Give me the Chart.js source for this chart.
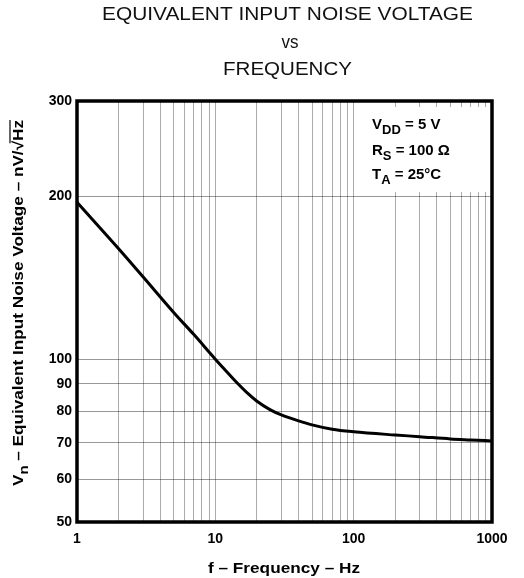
<!DOCTYPE html>
<html>
<head>
<meta charset="utf-8">
<script src="https://cdn.jsdelivr.net/npm/chart.js@4/dist/chart.umd.min.js"></script>
<style>
html,body{margin:0;padding:0;background:#fff;}
#wrap{width:524px;height:578px;position:relative;}
</style>
</head>
<body>
<div id="wrap"><canvas id="c" width="524" height="578"></canvas></div>
<script>
// ---- data ----
const titleLines = ["EQUIVALENT INPUT NOISE VOLTAGE", "vs", "FREQUENCY"];
const freqHz = [1, 2, 3, 5, 7, 10, 12, 14, 17, 20, 25, 30, 40, 50, 70, 100, 200, 300, 500, 700, 1000];
const noiseNv = [195, 160, 142, 122, 111, 100, 95.0, 91.0, 86.6, 83.6, 80.6, 78.9, 76.9, 75.6, 74.2, 73.4, 72.4, 71.9, 71.2, 70.9, 70.6];
const xGridValues = [1,2,3,4,5,6,7,8,9,10,20,30,40,50,60,70,80,90,100,200,300,400,500,600,700,800,900,1000];
const xTickLabels = [1, 10, 100, 1000];
const yTickValues = [50, 60, 70, 80, 90, 100, 200, 300];
const xTitle = "f – Frequency – Hz";
const conditions = [
  [["T","V"],["S","DD"],["T"," = 5 V"]],
  [["T","R"],["S","S"],["T"," = 100 Ω"]],
  [["T","T"],["S","A"],["T"," = 25°C"]]
];

const FONT = "'Liberation Sans', Arial, Helvetica, sans-serif";

function drawRich(ctx, x, y, parts, size) {
  let cx = x;
  for (const [kind, txt] of parts) {
    if (kind === "S") {
      ctx.font = "bold " + Math.round(size*0.85) + "px " + FONT;
      ctx.fillText(txt, cx, y + size*0.32);
    } else {
      ctx.font = "bold " + size + "px " + FONT;
      ctx.fillText(txt, cx, y);
    }
    cx += ctx.measureText(txt).width;
  }
  return cx;
}

function stretchText(ctx, txt, cx, y, targetW) {
  const w = ctx.measureText(txt).width;
  const s = targetW / w;
  ctx.save();
  ctx.translate(cx, y);
  ctx.scale(s, 1);
  ctx.textAlign = "center";
  ctx.fillText(txt, 0, 0);
  ctx.restore();
}

const decor = {
  id: "decor",
  beforeDatasetsDraw(chart) {
    const ctx = chart.ctx;
    ctx.save();
    ctx.fillStyle = "#fff";
    ctx.fillRect(356, 107, 132, 85);
    ctx.restore();
  },
  afterDraw(chart) {
    const ctx = chart.ctx;
    const a = chart.chartArea;
    ctx.save();
    // frame
    ctx.strokeStyle = "#000";
    ctx.lineWidth = 3.5;
    ctx.strokeRect(a.left, a.top, a.right - a.left, a.bottom - a.top);
    // title
    ctx.fillStyle = "#111";
    ctx.textBaseline = "alphabetic";
    ctx.font = "18px " + FONT;
    stretchText(ctx, titleLines[0], 287.5, 20, 371);
    stretchText(ctx, titleLines[1], 290, 48, 17);
    stretchText(ctx, titleLines[2], 287.5, 75, 129);
    // x title
    ctx.fillStyle = "#000";
    ctx.font = "bold 15px " + FONT;
    stretchText(ctx, xTitle, 284, 573, 152);
    // y title (rotated), with subscript and sqrt overline
    ctx.save();
    ctx.translate(23, 303);
    ctx.rotate(-Math.PI/2);
    const parts = [["T","V"],["S","n"],["T"," – Equivalent Input Noise Voltage – nV/√"]];
    let total = 0;
    for (const [k,t] of parts) { ctx.font = "bold " + (k==="S"?13:15) + "px " + FONT; total += ctx.measureText(t).width; }
    ctx.font = "bold 15px " + FONT;
    const hzW = ctx.measureText("Hz").width;
    total += hzW;
    const sc = 366 / total;
    ctx.scale(sc, 1);
    ctx.textAlign = "left";
    ctx.textBaseline = "alphabetic";
    let sx = -total/2;
    sx = drawRich(ctx, sx, 0, parts, 15);
    ctx.font = "bold 15px " + FONT;
    ctx.fillText("Hz", sx, 0);
    ctx.lineWidth = 1.2;
    ctx.strokeStyle = "#000";
    ctx.beginPath();
    ctx.moveTo(sx - 2, -13);
    ctx.lineTo(sx + hzW, -13);
    ctx.stroke();
    ctx.restore();
    // conditions
    ctx.fillStyle = "#000";
    ctx.textAlign = "left";
    ctx.textBaseline = "alphabetic";
    const ys = [129, 155, 179];
    for (let i = 0; i < conditions.length; i++) {
      drawRich(ctx, 372, ys[i], conditions[i], 15);
    }
    ctx.restore();
  }
};

new Chart(document.getElementById("c"), {
  type: "line",
  data: {
    datasets: [{
      data: freqHz.map((f, i) => ({ x: f, y: noiseNv[i] })),
      borderColor: "#000",
      borderWidth: 3,
      pointRadius: 0,
      fill: false,
      cubicInterpolationMode: "monotone"
    }]
  },
  options: {
    responsive: false,
    animation: false,
    devicePixelRatio: 1,
    layout: { padding: { left: 0, right: 32, top: 101, bottom: 0 } },
    plugins: { legend: { display: false }, title: { display: false }, tooltip: { enabled: false } },
    scales: {
      x: {
        type: "logarithmic",
        min: 1, max: 1000,
        afterBuildTicks: s => { s.ticks = xGridValues.map(v => ({ value: v })); },
        afterFit: s => { s.height = 56; },
        border: { display: false },
        grid: { color: "rgba(0,0,0,0.33)", lineWidth: 1, drawTicks: false },
        ticks: {
          autoSkip: false, maxRotation: 0, padding: 9, color: "#000",
          font: { family: FONT, size: 14, weight: "bold" },
          callback: v => xTickLabels.includes(v) ? String(v) : ""
        }
      },
      y: {
        type: "logarithmic",
        min: 50, max: 300,
        afterBuildTicks: s => { s.ticks = yTickValues.map(v => ({ value: v })); },
        afterFit: s => { s.width = 77; },
        border: { display: false },
        grid: { color: "rgba(0,0,0,0.4)", lineWidth: 1, drawTicks: false },
        ticks: {
          autoSkip: false, padding: 5, color: "#000",
          font: { family: FONT, size: 14, weight: "bold" },
          callback: v => yTickValues.includes(v) ? String(v) : ""
        }
      }
    }
  },
  plugins: [decor]
});
</script>
</body>
</html>
